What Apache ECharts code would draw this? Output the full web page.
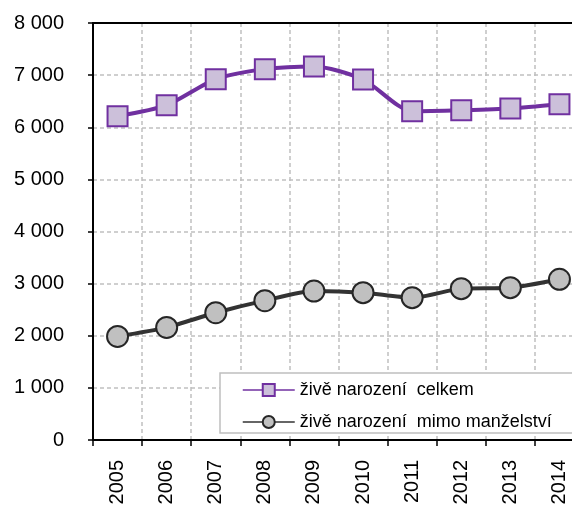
<!DOCTYPE html>
<html>
<head>
<meta charset="utf-8">
<script src="https://cdn.jsdelivr.net/npm/echarts@6/dist/echarts.min.js"></script>
<style>html,body{margin:0;padding:0;background:#fff;overflow:hidden;width:572px;height:509px;}#c{width:584px;height:509px;}</style>
</head>
<body>
<div id="c"></div>
<script>
var years = ['2005','2006','2007','2008','2009','2010','2011','2012','2013','2014'];
var celkem = [6212, 6423, 6923, 7115, 7167, 6917, 6308, 6327, 6360, 6442];
var mimo = [1987, 2160, 2442, 2673, 2858, 2827, 2731, 2904, 2923, 3083];
var seriesNames = ['živě narození  celkem', 'živě narození  mimo manželství'];

var chart = echarts.init(document.getElementById('c'), null, {renderer: 'canvas'});
var font = 'Liberation Sans, Arial, sans-serif';
chart.setOption({
  animation: false,
  backgroundColor: '#fff',
  grid: {left: 93, top: 23, right: 0, bottom: 69},
  xAxis: [{
    type: 'category', data: years, boundaryGap: true,
    axisLine: {lineStyle: {color: '#000', width: 2}},
    axisTick: {show: true, interval: 0, length: 6, lineStyle: {color: '#000', width: 1.5}},
    axisLabel: {rotate: 90, margin: 20, interval: 0, color: '#000', fontSize: 20, fontFamily: font},
    splitLine: {show: true, interval: 0, lineStyle: {color: '#c0c0c0', type: [4, 3], width: 1.5}}
  }, {
    type: 'category', data: years, position: 'top',
    axisLine: {show: true, lineStyle: {color: '#000', width: 2}},
    axisTick: {show: false}, axisLabel: {show: false}, splitLine: {show: false}
  }],
  yAxis: {
    type: 'value', min: 0, max: 8000, interval: 1000,
    axisLine: {show: true, lineStyle: {color: '#000', width: 2}},
    axisTick: {show: true, length: 5, lineStyle: {color: '#000', width: 1.5}},
    axisLabel: {margin: 29, color: '#000', fontSize: 20, fontFamily: font,
      formatter: function (v) { return v >= 1000 ? Math.floor(v / 1000) + ' ' + ('00' + (v % 1000)).slice(-3) : String(v); }},
    splitLine: {show: true, lineStyle: {color: '#c0c0c0', type: [4, 3], width: 1.5}}
  },
  graphic: {elements: [{type: 'rect', z: 3, shape: {x: 220, y: 373, width: 400, height: 60}, style: {fill: '#fff', stroke: '#bfbfbf', lineWidth: 1.5}}]},
  legend: {
    orient: 'vertical', left: 242, top: 381, padding: 0, itemGap: 14, itemWidth: 52, itemHeight: 15, z: 5,
    textStyle: {color: '#000', fontSize: 18, fontFamily: font},
    lineStyle: {width: 1.5},
    data: seriesNames
  },
  series: [
    {name: seriesNames[0], type: 'line', data: celkem, smooth: 0.25, symbol: 'rect', symbolSize: 20, z: 4,
      lineStyle: {color: '#7030a0', width: 4}, itemStyle: {color: '#ccc0da', borderColor: '#7030a0', borderWidth: 2}},
    {name: seriesNames[1], type: 'line', data: mimo, smooth: 0.25, symbol: 'circle', symbolSize: 21, z: 4,
      lineStyle: {color: '#333333', width: 4}, itemStyle: {color: '#c0c0c0', borderColor: '#262626', borderWidth: 2}}
  ]
});
</script>
</body>
</html>
